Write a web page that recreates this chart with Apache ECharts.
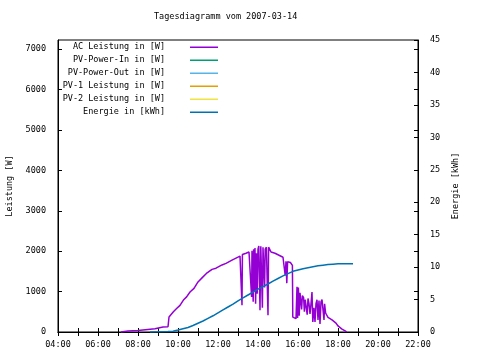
<!DOCTYPE html>
<html><head><meta charset="utf-8">
<script src="https://cdn.jsdelivr.net/npm/echarts@6/dist/echarts.min.js"></script>
<style>html,body{margin:0;padding:0;background:#fff}#c{width:480px;height:360px}</style>
</head><body><div id="c"></div>
<script>
const titleText = 'Tagesdiagramm vom 2007-03-14';
const seriesNames = ['AC Leistung in [W]','PV-Power-In in [W]','PV-Power-Out in [W]','PV-1 Leistung in [W]','PV-2 Leistung in [W]','Energie in [kWh]'];
const seriesColors = ['#9400d3','#009e73','#56b4e9','#e69f00','#f0e442','#0072b2'];
// AC power: [hour, W]
const acPower = [
[7.15,0],[7.2,15],[7.5,25],[8.0,40],[8.85,80],[9.25,125],[9.5,130],[9.55,370],[9.6,415],[9.77,500],[9.93,580],
[10.1,660],[10.27,790],[10.43,870],[10.6,990],[10.8,1080],[11.0,1240],[11.2,1340],[11.42,1450],[11.7,1550],[11.9,1580],
[12.2,1660],[12.4,1700],[12.7,1780],[12.9,1830],[13.1,1880],[13.18,1900],[13.2,660],[13.22,1920],[13.3,1930],[13.4,1950],
[13.5,1960],[13.55,1980],[13.6,2000],[13.65,2000],[13.68,870],[13.7,2010],[13.74,2020],[13.76,750],[13.78,2050],[13.82,1000],
[13.85,2080],[13.88,700],[13.92,1950],[13.96,950],[14.0,2050],[14.04,2130],[14.08,2100],[14.1,540],[14.14,2120],[14.18,2130],
[14.22,600],[14.25,2100],[14.3,2080],[14.33,1100],[14.36,2050],[14.42,2100],[14.46,2130],[14.5,415],[14.53,2100],[14.58,2050],
[14.65,1980],[14.75,1950],[14.85,1950],[14.95,1920],[15.05,1900],[15.15,1880],[15.25,1850],[15.32,1820],[15.36,1400],[15.4,1750],
[15.44,1210],[15.48,1740],[15.55,1740],[15.62,1720],[15.68,1740],[15.72,1650],[15.74,370],[15.8,350],[15.9,330],[15.95,1120],
[15.98,350],[16.02,1100],[16.06,400],[16.1,970],[16.15,950],[16.18,560],[16.22,900],[16.28,850],[16.32,500],[16.36,800],
[16.42,820],[16.46,430],[16.5,830],[16.55,700],[16.6,450],[16.65,700],[16.7,990],[16.74,250],[16.8,600],[16.85,250],
[16.9,700],[16.95,800],[17.0,300],[17.05,780],[17.1,200],[17.15,750],[17.2,800],[17.25,800],[17.3,300],[17.33,700],
[17.38,470],[17.45,450],[17.5,360],[17.6,330],[17.7,300],[17.8,260],[17.9,220],[18.0,150],[18.1,110],[18.2,70],
[18.3,40],[18.38,20],[18.43,0]
];
// Energy: [hour, kWh]
const energy = [
[8.6,0],[9.0,0.02],[9.5,0.06],[9.75,0.12],[10.0,0.3],[10.25,0.5],[10.5,0.7],[10.75,1.0],[11.0,1.35],[11.25,1.7],
[11.5,2.1],[11.75,2.5],[12.0,2.95],[12.25,3.4],[12.5,3.85],[12.75,4.3],[13.0,4.8],[13.25,5.25],[13.5,5.7],[13.75,6.15],
[14.0,6.6],[14.25,7.0],[14.5,7.4],[14.75,7.85],[15.0,8.25],[15.25,8.65],[15.5,9.0],[15.75,9.35],[16.0,9.55],[16.25,9.75],
[16.5,9.9],[16.75,10.05],[17.0,10.2],[17.25,10.3],[17.5,10.4],[17.75,10.45],[18.0,10.5],[18.25,10.52],[18.5,10.53],[18.75,10.53]
];
const font = 'DejaVu Sans Mono';
const fs = 8.5;
const chart = echarts.init(document.getElementById('c'));
const xBase = {type:'value',min:4,max:22,interval:1,splitLine:{show:false},
  axisLine:{lineStyle:{color:'#000'}},axisTick:{inside:true,length:4,lineStyle:{color:'#000'}}};
const pad = v => (v<10?'0':'')+v+':00';
const lineIcon = 'path://M0,0h0.01v0.01h-0.01zM0,4h28v1.5h-28zM0,9h0.01v0.01h-0.01z';
chart.setOption({
  animation:false,
  title:{text:titleText,left:154,top:12,padding:0,textStyle:{fontFamily:font,fontSize:fs,fontWeight:'normal',color:'#000'}},
  grid:{left:58,right:62,top:40,bottom:28,outerBoundsMode:'none',containLabel:false,show:true,borderColor:'#000',borderWidth:1,backgroundColor:'transparent'},
  legend:{orient:'vertical',left:55,top:42.5,padding:0,align:'right',itemWidth:28,itemHeight:9,itemGap:4,
    icon:lineIcon,
    data:seriesNames,selectedMode:false,
    formatter:n=>'{a|'+n+'}{s| }',
    textStyle:{fontFamily:font,fontSize:fs,color:'#000',
      rich:{a:{width:110,align:'right',fontFamily:font,fontSize:fs,lineHeight:9},s:{width:20,fontSize:fs,lineHeight:9}}}},
  xAxis:[
    Object.assign({},xBase,{position:'bottom',axisLabel:{margin:8,color:'#000',fontFamily:font,fontSize:fs,
      formatter:v=>v%2===0?pad(v):''}}),
    Object.assign({},xBase,{position:'top',axisLabel:{show:false}})
  ],
  yAxis:[
    {type:'value',min:0,max:7230,interval:1000,position:'left',splitLine:{show:false},
     axisLine:{show:true,lineStyle:{color:'#000'}},axisTick:{show:true,inside:true,length:4,lineStyle:{color:'#000'}},
     axisLabel:{margin:12,color:'#000',fontFamily:font,fontSize:fs,showMaxLabel:false,formatter:v=>String(v)},
     name:'Leistung [W]',nameLocation:'middle',nameRotate:90,nameGap:44,
     nameTextStyle:{fontFamily:font,fontSize:fs,color:'#000'}},
    {type:'value',min:0,max:45,interval:5,position:'right',splitLine:{show:false},
     axisLine:{show:true,lineStyle:{color:'#000'}},axisTick:{show:true,inside:true,length:4,lineStyle:{color:'#000'}},
     axisLabel:{margin:12,color:'#000',fontFamily:font,fontSize:fs,formatter:v=>String(v)},
     name:'Energie [kWh]',nameLocation:'middle',nameRotate:90,nameGap:31,
     nameTextStyle:{fontFamily:font,fontSize:fs,color:'#000'}},
    {type:'value',min:0,max:7230,interval:1000,position:'right',splitLine:{show:false},
     axisLine:{show:false},axisTick:{show:true,inside:true,length:4,lineStyle:{color:'#000'}},
     axisLabel:{show:false}}
  ],
  series:[
    {name:seriesNames[0],type:'line',data:acPower,yAxisIndex:0,symbol:'none',color:seriesColors[0],lineStyle:{width:1.5,color:seriesColors[0]},z:2},
    {name:seriesNames[1],type:'line',data:[],yAxisIndex:0,symbol:'none',color:seriesColors[1],lineStyle:{width:1.5,color:seriesColors[1]}},
    {name:seriesNames[2],type:'line',data:[],yAxisIndex:0,symbol:'none',color:seriesColors[2],lineStyle:{width:1.5,color:seriesColors[2]}},
    {name:seriesNames[3],type:'line',data:[],yAxisIndex:0,symbol:'none',color:seriesColors[3],lineStyle:{width:1.5,color:seriesColors[3]}},
    {name:seriesNames[4],type:'line',data:[],yAxisIndex:0,symbol:'none',color:seriesColors[4],lineStyle:{width:1.5,color:seriesColors[4]}},
    {name:seriesNames[5],type:'line',data:energy,yAxisIndex:1,symbol:'none',color:seriesColors[5],lineStyle:{width:1.5,color:seriesColors[5]},z:3}
  ]
});
</script></body></html>
